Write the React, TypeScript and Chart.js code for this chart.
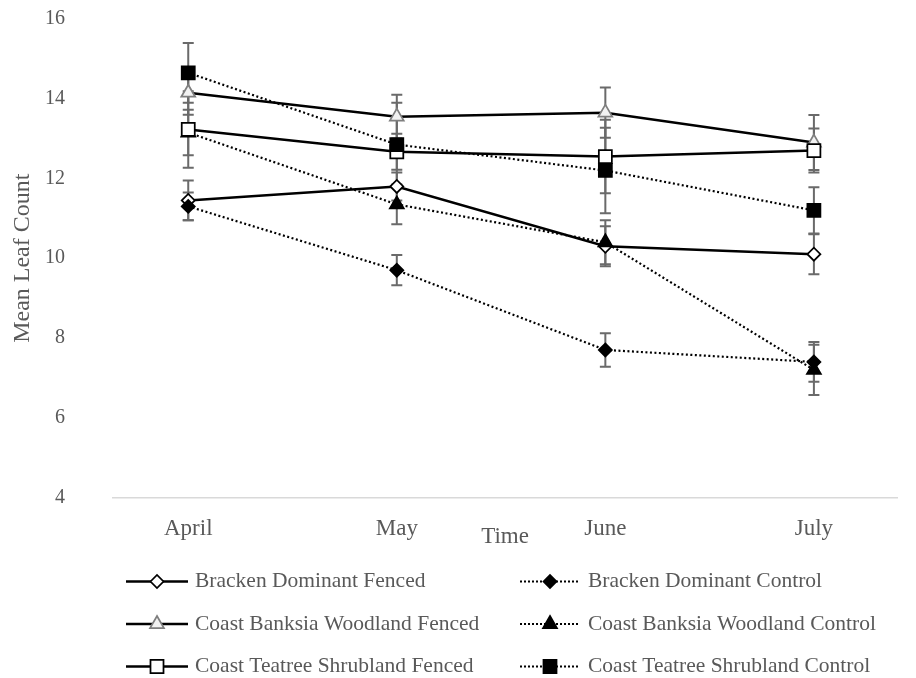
import React, { useEffect, useRef } from 'react';
import { Chart, registerables } from 'chart.js';
import { drawPoint } from 'chart.js/helpers';

Chart.register(...registerables);

// ---- data ----
const months = ['April', 'May', 'June', 'July'];
const monthIndex = [0, 1, 2, 3];
const yTickValues = [4, 6, 8, 10, 12, 14, 16];

const brackenFenced = [11.45, 11.8, 10.3, 10.1];
const brackenFencedErr = [0.5, 0.35, 0.5, 0.5];
const brackenControl = [11.3, 9.7, 7.7, 7.4];
const brackenControlErr = [0.35, 0.38, 0.42, 0.5];
const banksiaFenced = [14.15, 13.55, 13.65, 12.9];
const banksiaFencedErr = [0.55, 0.55, 0.63, 0.69];
const banksiaControl = [13.15, 11.35, 10.4, 7.2];
const banksiaControlErr = [0.57, 0.5, 0.55, 0.63];
const teatreeFenced = [13.23, 12.67, 12.55, 12.7];
const teatreeFencedErr = [0.96, 0.45, 0.92, 0.55];
const teatreeControl = [14.65, 12.85, 12.2, 11.2];
const teatreeControlErr = [0.75, 1.05, 1.07, 0.58];

const seriesNames = [
  'Bracken Dominant Fenced',
  'Bracken Dominant Control',
  'Coast Banksia Woodland Fenced',
  'Coast Banksia Woodland Control',
  'Coast Teatree Shrubland Fenced',
  'Coast Teatree Shrubland Control',
];

// ---- styles ----
const FONT = "'Liberation Serif', 'Times New Roman', serif";
const TEXT = '#595959';

type Series = {
  name: string;
  values: number[];
  errors: number[];
  dotted: boolean;
  pointStyle: string;
  radius: number;
  fill: string;
  stroke: string;
};

const series: Series[] = [
  { name: seriesNames[0], values: brackenFenced, errors: brackenFencedErr, dotted: false, pointStyle: 'rectRot', radius: 6.5, fill: '#ffffff', stroke: '#000000' },
  { name: seriesNames[1], values: brackenControl, errors: brackenControlErr, dotted: true, pointStyle: 'rectRot', radius: 6.5, fill: '#000000', stroke: '#000000' },
  { name: seriesNames[2], values: banksiaFenced, errors: banksiaFencedErr, dotted: false, pointStyle: 'triangle', radius: 8, fill: '#f2f2f2', stroke: '#7f7f7f' },
  { name: seriesNames[3], values: banksiaControl, errors: banksiaControlErr, dotted: true, pointStyle: 'triangle', radius: 8, fill: '#000000', stroke: '#000000' },
  { name: seriesNames[4], values: teatreeFenced, errors: teatreeFencedErr, dotted: false, pointStyle: 'rect', radius: 9.2, fill: '#ffffff', stroke: '#000000' },
  { name: seriesNames[5], values: teatreeControl, errors: teatreeControlErr, dotted: true, pointStyle: 'rect', radius: 9.2, fill: '#000000', stroke: '#000000' },
];

const errorBarPlugin = {
  id: 'errorBars',
  beforeDatasetsDraw(chart: any) {
    const { ctx } = chart;
    const x = chart.scales.x;
    const y = chart.scales.y;
    ctx.save();
    ctx.strokeStyle = '#6a6a6a';
    ctx.lineWidth = 2;
    series.forEach((s) => {
      s.values.forEach((v, i) => {
        const px = x.getPixelForValue(monthIndex[i]);
        const top = y.getPixelForValue(v + s.errors[i]);
        const bot = y.getPixelForValue(v - s.errors[i]);
        ctx.beginPath();
        ctx.moveTo(px, top);
        ctx.lineTo(px, bot);
        ctx.moveTo(px - 5.5, top);
        ctx.lineTo(px + 5.5, top);
        ctx.moveTo(px - 5.5, bot);
        ctx.lineTo(px + 5.5, bot);
        ctx.stroke();
      });
    });
    ctx.restore();
  },
};

const legendPlugin = {
  id: 'customLegend',
  afterDraw(chart: any) {
    const { ctx, chartArea } = chart;
    ctx.save();
    // x axis title
    ctx.fillStyle = TEXT;
    ctx.font = `23px ${FONT}`;
    ctx.textAlign = 'center';
    ctx.textBaseline = 'alphabetic';
    ctx.fillText('Time', (chartArea.left + chartArea.right) / 2, chartArea.bottom + 45.5);

    const rowYs = [chartArea.bottom + 84, chartArea.bottom + 126.5, chartArea.bottom + 169];
    const cols = [
      { x0: 118, x1: 180, mx: 149, tx: 187 },
      { x0: 512, x1: 571, mx: 542, tx: 580 },
    ];
    series.forEach((s, i) => {
      const row = Math.floor(i / 2);
      const col = cols[i % 2];
      const yy = rowYs[row];
      ctx.save();
      ctx.strokeStyle = '#000000';
      ctx.lineWidth = s.dotted ? 2 : 2.5;
      ctx.setLineDash(s.dotted ? [2, 2] : []);
      ctx.beginPath();
      ctx.moveTo(col.x0, yy);
      ctx.lineTo(col.x1, yy);
      ctx.stroke();
      ctx.restore();
      ctx.save();
      ctx.fillStyle = s.fill;
      ctx.strokeStyle = s.stroke;
      ctx.lineWidth = 1.75;
      drawPoint(ctx, { pointStyle: s.pointStyle as any, radius: s.radius, rotation: 0, borderWidth: 1.75 }, col.mx, yy);
      ctx.restore();
      ctx.fillStyle = TEXT;
      ctx.font = `21.5px ${FONT}`;
      ctx.textAlign = 'left';
      ctx.textBaseline = 'middle';
      ctx.fillText(s.name, col.tx, yy);
    });
    ctx.restore();
  },
};

export default function App() {
  const canvasRef = useRef<HTMLCanvasElement | null>(null);

  useEffect(() => {
    const prevOverflow = document.body.style.overflow;
    document.body.style.overflow = 'hidden';
    document.documentElement.style.overflow = 'hidden';
    if (!canvasRef.current) return;
    const datasets = series.map((s, idx) => ({
      label: s.name,
      data: monthIndex.map((m, i) => ({ x: m, y: s.values[i] })),
      borderColor: '#000000',
      borderWidth: s.dotted ? 2.2 : 2.5,
      borderDash: s.dotted ? [2, 2.5] : [],
      backgroundColor: s.fill,
      pointStyle: s.pointStyle,
      pointRadius: s.radius,
      pointHoverRadius: s.radius,
      pointBackgroundColor: s.fill,
      pointBorderColor: s.stroke,
      pointBorderWidth: 1.75,
      tension: 0,
      fill: false,
      order: series.length - idx,
    }));

    const chart = new Chart(canvasRef.current, {
      type: 'line',
      data: { datasets },
      options: {
        animation: false,
        responsive: false,
        events: [],
        layout: { padding: { left: 0, right: 3, top: 10, bottom: 120.5 } },
        plugins: {
          legend: { display: false },
          tooltip: { enabled: false },
          title: { display: false },
        },
        scales: {
          x: {
            type: 'linear',
            min: -0.3608,
            max: 3.3987,
            grid: { display: false, drawTicks: false },
            border: { display: true, color: '#d9d9d9', width: 1.5 },
            afterBuildTicks: (scale: any) => {
              scale.ticks = monthIndex.map((v) => ({ value: v }));
            },
            afterFit: (scale: any) => {
              scale.height = 60;
              scale.paddingLeft = 0;
              scale.paddingRight = 0;
            },
            ticks: {
              autoSkip: false,
              maxRotation: 0,
              padding: 18,
              color: TEXT,
              font: { family: FONT, size: 23 },
              callback: (v: any) => months[Number(v)] ?? '',
            },
          },
          y: {
            type: 'linear',
            min: 4,
            max: 16,
            grid: { display: false, drawTicks: false },
            border: { display: false },
            afterBuildTicks: (scale: any) => {
              scale.ticks = yTickValues.map((v) => ({ value: v }));
            },
            afterFit: (scale: any) => {
              scale.width = 105;
              scale.paddingTop = 0;
              scale.paddingBottom = 0;
            },
            ticks: {
              padding: 48,
              color: TEXT,
              font: { family: FONT, size: 20 },
            },
            title: {
              display: true,
              text: 'Mean Leaf Count',
              color: TEXT,
              font: { family: FONT, size: 24, weight: 'normal' },
              padding: { top: 0, bottom: 0 },
            },
          },
        },
      } as any,
      plugins: [errorBarPlugin, legendPlugin],
    });
    return () => {
      chart.destroy();
      document.body.style.overflow = prevOverflow;
    };
  }, []);

  return (
    <canvas
      ref={canvasRef}
      width={900}
      height={670}
      style={{ display: 'block', width: 900, height: 670 }}
    />
  );
}
